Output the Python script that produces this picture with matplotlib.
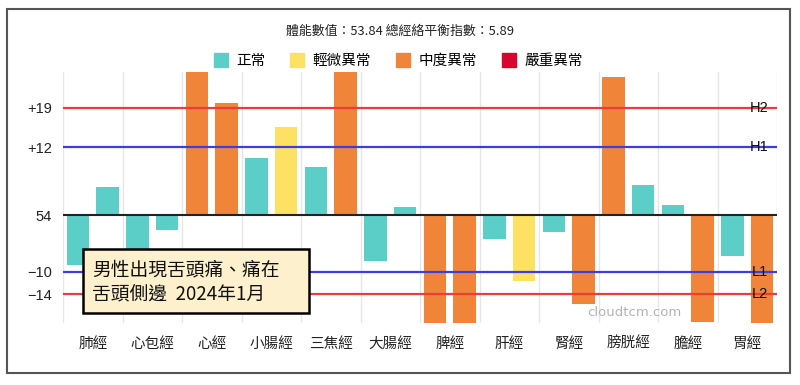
import matplotlib
matplotlib.use("Agg")
import matplotlib.pyplot as plt
from matplotlib.lines import Line2D
from matplotlib.patches import Rectangle

plt.rcParams["font.family"] = ["Noto Sans CJK TC", "DejaVu Sans"]

# ── Dados ────────────────────────────────────────────────────────────────
meridianos = ["肺經", "心包經", "心經", "小腸經", "三焦經", "大腸經",
              "脾經", "肝經", "腎經", "膀胱經", "膽經", "胃經"]
val_esq = [-8.9, -7.0, 30.0, 10.1, 8.5, -8.1, -22.0, -4.3, -3.0, 24.4, 1.8, -7.2]
val_dir = [4.9, -2.7, 19.9, 15.6, 30.0, 1.4, -22.0, -11.6, -15.8, 5.3, -19.0, -22.0]
nivel_esq = [0, 0, 2, 0, 0, 0, 2, 0, 0, 2, 0, 0]
nivel_dir = [0, 0, 2, 1, 2, 0, 2, 1, 2, 0, 2, 2]

niveis = ["正常", "輕微異常", "中度異常", "嚴重異常"]
cores = ["#5BCFC7", "#FDE163", "#F0853A", "#D8062E"]

limites = [19, 12, -10, -14]
limite_rotulos = ["H2", "H1", "L1", "L2"]
limite_cores = ["#F03B3B", "#3D3DE0", "#3D3DE0", "#F03B3B"]

ytick_vals = [19, 12, 0, -10, -14]
ytick_labels = ["+19", "+12", "54", "\u221210", "\u221214"]

titulo = "體能數值：53.84 總經絡平衡指數：5.89"
nota = "男性出現舌頭痛、痛在\n舌頭側邊  2024年1月"

# ── Gráfico ──────────────────────────────────────────────────────────────
fig = plt.figure(figsize=(8, 3.85), dpi=100)
ax = fig.add_axes([0.07875, 0.161, 0.8925, 0.652])

x = list(range(len(meridianos)))
larg = 0.38
ax.bar([i - 0.25 for i in x], val_esq, width=larg,
       color=[cores[n] for n in nivel_esq], zorder=2)
ax.bar([i + 0.25 for i in x], val_dir, width=larg,
       color=[cores[n] for n in nivel_dir], zorder=2)

# grade vertical entre categorias
for i in range(len(meridianos) + 1):
    ax.axvline(i - 0.5, color="#e6e6e6", linewidth=1, zorder=1)

# linhas de limite
for v, r, c in zip(limites, limite_rotulos, limite_cores):
    ax.axhline(v, color=c, linewidth=1.6, zorder=3)
    ax.text(11.35, v, r, ha="right", va="center", fontsize=10.5,
            family="Liberation Sans", color="#111111", zorder=4)

ax.axhline(0, color="#222222", linewidth=1.5, zorder=3)

ax.set_xlim(-0.5, 11.5)
ax.set_ylim(-19.1, 25.3)
ax.set_xticks(x)
ax.set_xticklabels(meridianos, fontsize=10.5, color="#222222")
ax.set_yticks(ytick_vals)
ax.set_yticklabels(ytick_labels, fontsize=10.5, family="Liberation Sans", color="#222222")
ax.tick_params(axis="x", length=0, pad=10)
ax.tick_params(axis="y", length=0, pad=8)
for s in ax.spines.values():
    s.set_visible(False)

# título e legenda
fig.text(0.5, 1 - 31 / 385, titulo, ha="center", va="center", fontsize=9.3, color="#222222")
handles = [Line2D([], [], marker="s", linestyle="", markersize=10,
                  markerfacecolor=c, markeredgecolor=c) for c in cores]
fig.legend(handles, niveis, loc="center", bbox_to_anchor=(0.4975, 1 - 61 / 385),
           ncol=4, frameon=False, fontsize=10.5, handletextpad=0.55,
           columnspacing=1.7, handlelength=1.0)

# nota (caixa desenhada à parte para ter a largura do original)
fig.patches.append(Rectangle((83 / 800, 1 - 313 / 385), 226 / 800, 64 / 385,
                             transform=fig.transFigure, facecolor="#FDF0CC",
                             edgecolor="black", linewidth=1.8, zorder=5))
fig.text(92 / 800, 1 - 282.5 / 385, nota, ha="left", va="center", fontsize=13.5,
         linespacing=1.22, color="#111111", zorder=6)

# marca d'água
fig.text(634 / 800, 1 - 313 / 385, "cloudtcm.com", ha="center", va="center",
         fontsize=9.5, color="#b3b3b3", family="DejaVu Sans")

# moldura
fig.patches.append(Rectangle((7 / 800, 1 - 373 / 385), 783 / 800, 364 / 385,
                             transform=fig.transFigure, fill=False,
                             edgecolor="#555555", linewidth=1.5))

plt.savefig("out.png", dpi=100)
